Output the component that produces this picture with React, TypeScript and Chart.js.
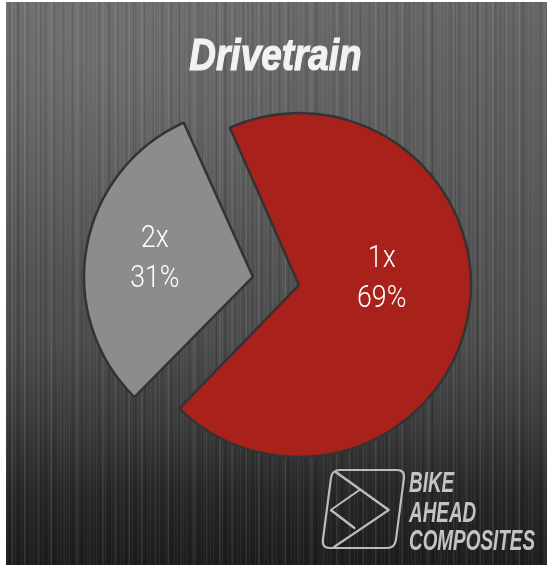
import React, { useEffect, useRef } from "react";
import { Chart, registerables } from "chart.js";

Chart.register(...registerables);

// ---- data ----
const categories = ["1x", "2x"];
const values = [69, 31];
const sliceColors = ["#a8211a", "#8c8c8c"];
const titleText = "Drivetrain";
const brandLines = ["BIKE", "AHEAD", "COMPOSITES"];

// ---- styling knobs ----
const sliceOffsets = [24, 163];
const labelRadius = [0.5, 0.6];
const labelAngleNudge = [-14, 0];

function drawCondensed(ctx: CanvasRenderingContext2D, text: string, x: number, y: number, sx: number) {
  ctx.save();
  ctx.translate(x, y);
  ctx.scale(sx, 1);
  ctx.fillText(text, 0, 0);
  ctx.restore();
}

const overlayPlugin = {
  id: "overlayText",
  afterDatasetsDraw(chart: any) {
    const ctx: CanvasRenderingContext2D = chart.ctx;
    const meta = chart.getDatasetMeta(0);
    const total = values.reduce((a, b) => a + b, 0);
    meta.data.forEach((arc: any, i: number) => {
      const p = arc.getProps(["x", "y", "startAngle", "endAngle", "outerRadius"], true);
      const off = (arc.options.offset || 0) / 4;
      const half = (p.startAngle + p.endAngle) / 2;
      const cx = p.x + Math.cos(half) * off;
      const cy = p.y + Math.sin(half) * off;
      const mid = half + (labelAngleNudge[i] * Math.PI) / 180;
      const r = p.outerRadius * labelRadius[i];
      const lx = cx + Math.cos(mid) * r;
      const ly = cy + Math.sin(mid) * r;
      const pct = Math.round((values[i] / total) * 100) + "%";
      ctx.save();
      ctx.fillStyle = "#ffffff";
      ctx.font = "300 31px Roboto";
      ctx.textAlign = "center";
      ctx.textBaseline = "middle";
      drawCondensed(ctx, categories[i], lx, ly - 20, 0.86);
      drawCondensed(ctx, pct, lx, ly + 20, 0.86);
      ctx.restore();
    });

    // title
    ctx.save();
    ctx.fillStyle = "#f2f2f2";
    ctx.strokeStyle = "#f2f2f2";
    ctx.lineWidth = 1.2;
    ctx.font = "italic bold 45px 'Liberation Sans'";
    ctx.textAlign = "center";
    ctx.textBaseline = "alphabetic";
    ctx.translate(269.5, 68);
    ctx.scale(0.82, 1);
    ctx.fillText(titleText, 0, 0);
    ctx.strokeText(titleText, 0, 0);
    ctx.restore();

    // brand text
    ctx.save();
    ctx.fillStyle = "#c4c4c4";
    ctx.font = "italic bold 30px 'Liberation Sans'";
    ctx.textAlign = "left";
    ctx.textBaseline = "alphabetic";
    const baselines = [490, 520, 548];
    brandLines.forEach((t, i) => drawCondensed(ctx, t, 403, baselines[i], 0.63));
    ctx.restore();

    // brand icon
    ctx.save();
    ctx.strokeStyle = "#bcbcbc";
    ctx.lineWidth = 2.2;
    ctx.lineJoin = "round";
    ctx.lineCap = "round";
    ctx.translate(326, 468);
    ctx.transform(1, 0, -0.13, 1, 0, 0);
    const w = 73, h = 78, rr = 8;
    ctx.beginPath();
    ctx.moveTo(rr, 0);
    ctx.lineTo(w - rr, 0);
    ctx.quadraticCurveTo(w, 0, w, rr);
    ctx.lineTo(w, h - rr);
    ctx.quadraticCurveTo(w, h, w - rr, h);
    ctx.lineTo(rr, h);
    ctx.quadraticCurveTo(0, h, 0, h - rr);
    ctx.lineTo(0, rr);
    ctx.quadraticCurveTo(0, 0, rr, 0);
    ctx.stroke();
    ctx.beginPath();
    ctx.moveTo(4, 2);
    ctx.lineTo(62, 40);
    ctx.lineTo(12, 77);
    ctx.stroke();
    ctx.beginPath();
    ctx.moveTo(30, 20);
    ctx.lineTo(4, 40);
    ctx.lineTo(30, 58);
    ctx.stroke();
    ctx.restore();
  },
};

export default function App() {
  const ref = useRef<HTMLCanvasElement>(null);
  useEffect(() => {
    if (!ref.current) return;
    const chart = new Chart(ref.current, {
      type: "pie",
      data: {
        labels: categories,
        datasets: [
          {
            data: values,
            backgroundColor: sliceColors,
            borderColor: "#333333",
            borderWidth: 2.5,
            offset: sliceOffsets,
            hoverOffset: 0,
            rotation: -24,
            radius: 166,
          } as any,
        ],
      },
      options: {
        animation: false,
        responsive: true,
        maintainAspectRatio: false,
        layout: { padding: { left: 33, top: 1, right: 0, bottom: 0 } },
        plugins: {
          legend: { display: false },
          tooltip: { enabled: false },
          title: { display: false },
        },
      } as any,
      plugins: [overlayPlugin],
    });
    return () => chart.destroy();
  }, []);

  const bg = [
    "repeating-linear-gradient(90deg, rgba(255,255,255,0.06) 0px, rgba(255,255,255,0.06) 1px, rgba(0,0,0,0) 1px, rgba(0,0,0,0) 3px, rgba(0,0,0,0.10) 3px, rgba(0,0,0,0.10) 4px, rgba(0,0,0,0) 4px, rgba(0,0,0,0) 6px, rgba(255,255,255,0.04) 6px, rgba(255,255,255,0.04) 7px, rgba(0,0,0,0) 7px, rgba(0,0,0,0) 9px)",
    "repeating-linear-gradient(90deg, rgba(255,255,255,0) 0px, rgba(255,255,255,0) 5px, rgba(255,255,255,0.06) 5px, rgba(255,255,255,0.06) 7px, rgba(0,0,0,0) 7px, rgba(0,0,0,0) 13px)",
    "repeating-linear-gradient(90deg, rgba(0,0,0,0) 0px, rgba(0,0,0,0) 11px, rgba(0,0,0,0.08) 11px, rgba(0,0,0,0.08) 13px, rgba(0,0,0,0) 13px, rgba(0,0,0,0) 23px)",
    "radial-gradient(ellipse 60% 40% at 15% 10%, rgba(255,255,255,0.08), rgba(255,255,255,0))",
    "linear-gradient(180deg, #656565 0%, #595959 30%, #4c4c4c 60%, #3a3a3a 75%, #272727 87%, #1c1c1c 100%)",
  ].join(", ");

  return (
    <div
      style={{
        position: "absolute",
        left: 6,
        top: 2,
        width: 541,
        height: 563,
        background: bg,
      }}
    >
      <canvas ref={ref} />
    </div>
  );
}
